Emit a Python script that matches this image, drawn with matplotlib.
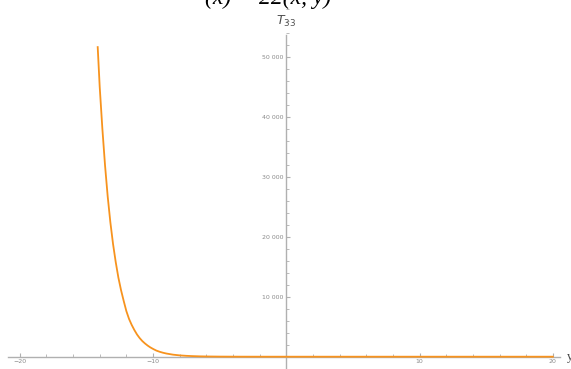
import matplotlib.pyplot as plt
from matplotlib.ticker import MultipleLocator, FuncFormatter

# Points along the curve, T33 against y
y_vals = [-14.15, -14.0, -13.8, -13.6, -13.4, -13.2, -13.0, -12.8, -12.6,
          -12.4, -12.2, -12.0, -11.8, -11.6, -11.4, -11.2, -11.0, -10.8,
          -10.6, -10.4, -10.2, -10.0, -9.75, -9.5, -9.25, -9.0, -8.5, -8.0,
          -7.5, -7.0, -6.5, -6.0, -5.0, -4.0, -3.0, -2.0, 0.0, 5.0, 10.0,
          15.0, 20.0]
t33_vals = [51600, 45000, 38000, 31900, 26700, 22400, 18800, 15800, 13200,
            11100, 9300, 7600, 6300, 5300, 4450, 3700, 3100, 2600,
            2200, 1850, 1550, 1300, 1020, 820, 660, 530, 340, 220,
            145, 95, 60, 40, 17, 7, 3, 1, 0, 0, 0,
            0, 0]

x_major = [-20, -10, 10, 20]
y_major = [10000, 20000, 30000, 40000, 50000]

axis_grey = "#b0b0b0"
label_grey = "#8a8a8a"

fig = plt.figure(figsize=(5.71, 3.69), dpi=100)
ax = fig.add_axes([0, 0, 1, 1])
ax.set_xlim(-21.48, 21.36)
ax.set_ylim(-2050, 59450)

ax.plot(y_vals, t33_vals, color="#f7931e", lw=1.3, zorder=3, clip_on=False)

# axes crossing at the origin
for side in ["top", "right"]:
    ax.spines[side].set_visible(False)
ax.spines["bottom"].set_position(("data", 0))
ax.spines["left"].set_position(("data", 0))
ax.spines["bottom"].set_bounds(-20.9, 20.5)
ax.spines["left"].set_bounds(-2100, 53700)
for side in ["bottom", "left"]:
    ax.spines[side].set_color(axis_grey)
    ax.spines[side].set_linewidth(1.0)

ax.set_xticks(x_major)
ax.xaxis.set_minor_locator(MultipleLocator(2))
ax.set_yticks(y_major)
ax.yaxis.set_minor_locator(MultipleLocator(2000))
ax.yaxis.set_major_formatter(FuncFormatter(lambda v, p: f"{int(v):,}".replace(",", " ")))
ax.xaxis.set_major_formatter(FuncFormatter(lambda v, p: f"{int(v)}".replace("-", "\u2212")))

ax.tick_params(axis="x", which="major", direction="in", length=3, width=0.8,
               color=axis_grey, labelsize=4.5, labelcolor=label_grey, pad=2)
ax.tick_params(axis="x", which="minor", direction="in", length=2, width=0.6,
               color=axis_grey)
ax.tick_params(axis="y", which="major", direction="in", length=3, width=0.8,
               color=axis_grey, labelsize=4.5, labelcolor=label_grey, pad=2)
ax.tick_params(axis="y", which="minor", direction="in", length=2, width=0.6,
               color=axis_grey)
ax.xaxis.set_tick_params(which="both", top=False)

# axis labels at the ends of the axes
ax.text(0, 55800, "$\\mathbf{\\mathit{T}}_{33}$", ha="center", va="center",
        fontsize=9, color="#505050")
ax.text(21.05, 0, "y", ha="left", va="center", fontsize=9, color="#444444",
        family="Liberation Serif")

# heading, partly above the top edge
fig.text(0.47, 0.989, "(x) = 22(x, y)", ha="center", va="baseline",
         fontsize=17, style="italic", family="Liberation Serif", color="black")

fig.savefig("out.png", dpi=100)
